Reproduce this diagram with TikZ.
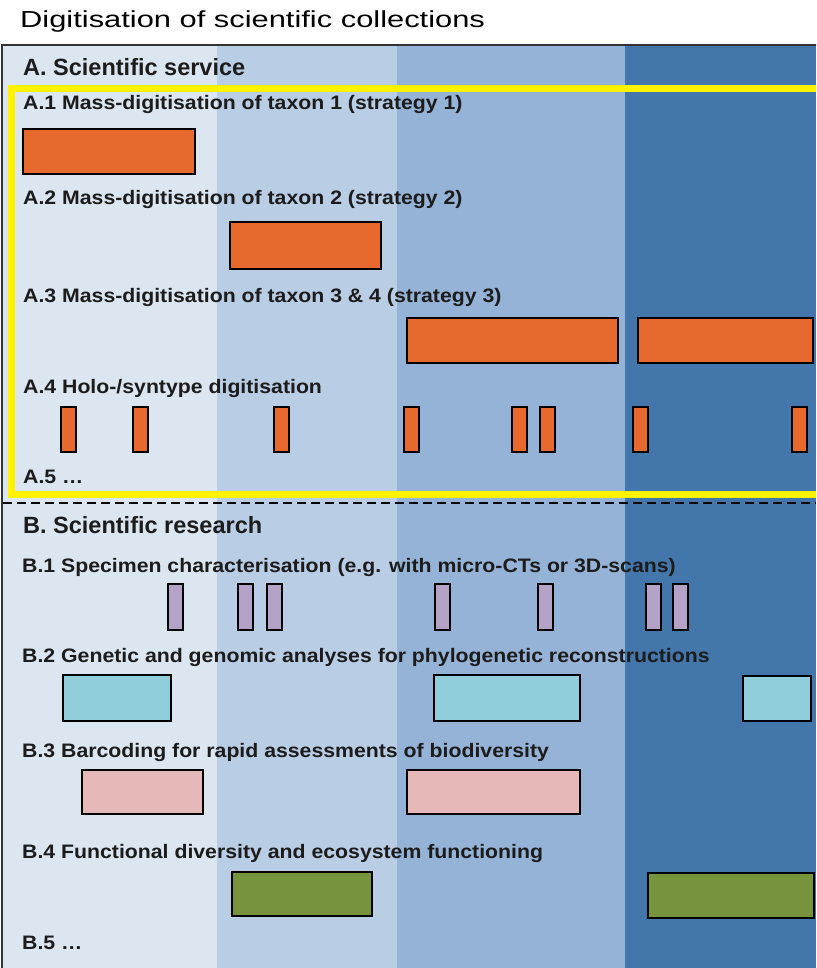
\documentclass[tikz,border=0pt]{standalone}
\usepackage{fontspec}
\setmainfont{Liberation Sans}
\newfontfamily\titlefont[FakeStretch=1.33]{Liberation Sans}
\newfontfamily\itemfont[FakeStretch=1.09]{Liberation Sans}
\usepackage{tikz}
\usetikzlibrary{positioning}

\definecolor{bandone}{HTML}{DCE6F1}
\definecolor{bandtwo}{HTML}{B9CDE5}
\definecolor{bandthree}{HTML}{95B3D7}
\definecolor{bandfour}{HTML}{4376AB}
\definecolor{servicefill}{HTML}{E8692D}
\definecolor{scanfill}{HTML}{B4A2C7}
\definecolor{genefill}{HTML}{92CDDC}
\definecolor{barcodefill}{HTML}{E6B9B8}
\definecolor{functionfill}{HTML}{77933C}
\definecolor{labeltext}{HTML}{1C1C1C}

\begin{document}
\begin{tikzpicture}[
    x=1pt, y=-1pt,
    title/.style={anchor=base west, inner sep=0, text=black, font=\titlefont\fontsize{23.2}{25}\selectfont},
    section/.style={anchor=base west, inner sep=0, text=labeltext, font=\bfseries\fontsize{23.5}{25}\selectfont},
    item/.style={anchor=base west, inner sep=0, text=labeltext, font=\itemfont\bfseries\fontsize{19.5}{21}\selectfont},
    bar/.style={draw=black, line width=2.2pt},
    servicebar/.style={bar, fill=servicefill},
    scanbar/.style={bar, fill=scanfill},
    genebar/.style={bar, fill=genefill},
    barcodebar/.style={bar, fill=barcodefill},
    functionbar/.style={bar, fill=functionfill}
]
    \useasboundingbox (0,0) rectangle (816,968);
    \clip (0,0) rectangle (816,968);

    % Time bands
    \fill[bandone] (2,45) rectangle (217,968);
    \fill[bandtwo] (217,45) rectangle (397,968);
    \fill[bandthree] (397,45) rectangle (625,968);
    \fill[bandfour] (625,45) rectangle (816,968);

    % Frame
    \draw[black!80, line width=2pt] (2,968) -- (2,45) -- (820,45);

    % Title
    \node[title] (heading) at (20,28) {Digitisation of scientific collections};

    % A. Scientific service
    \node[section] (service) at (23,76) {A. Scientific service};
    \draw[yellow, line width=7pt] (11,89) rectangle (840,494);

    \node[item] (a1) at (23,110) {A.1 Mass-digitisation of taxon 1 (strategy 1)};
    \draw[servicebar] (23,129) rectangle (195,174);

    \node[item] (a2) at (23,205) {A.2 Mass-digitisation of taxon 2 (strategy 2)};
    \draw[servicebar] (230,222) rectangle (381,269);

    \node[item] (a3) at (23,302) {A.3 Mass-digitisation of taxon 3 \& 4 (strategy 3)};
    \draw[servicebar] (407,318) rectangle (618,363);
    \draw[servicebar] (638,318) rectangle (813,363);

    \node[item] (a4) at (23,393) {A.4 Holo-/syntype digitisation};
    \draw[servicebar] (61,407) rectangle (76,452);
    \draw[servicebar] (133,407) rectangle (148,452);
    \draw[servicebar] (274,407) rectangle (289,452);
    \draw[servicebar] (404,407) rectangle (419,452);
    \draw[servicebar] (512,407) rectangle (527,452);
    \draw[servicebar] (540,407) rectangle (555,452);
    \draw[servicebar] (633,407) rectangle (648,452);
    \draw[servicebar] (792,407) rectangle (807,452);

    \node[item] (a5) at (23,483) {A.5 …};

    % Divider
    \draw[black, line width=2pt, dash pattern=on 9pt off 5pt] (3,503) -- (816,503);

    % B. Scientific research
    \node[section] (research) at (23,533) {B. Scientific research};

    \node[item] (b1) at (22,572) {B.1 Specimen characterisation (e.g. with micro-CTs or 3D-scans)};
    \draw[scanbar] (168,584) rectangle (183,630);
    \draw[scanbar] (238,584) rectangle (253,630);
    \draw[scanbar] (267,584) rectangle (282,630);
    \draw[scanbar] (435,584) rectangle (450,630);
    \draw[scanbar] (538,584) rectangle (553,630);
    \draw[scanbar] (646,584) rectangle (661,630);
    \draw[scanbar] (673,584) rectangle (688,630);

    \node[item] (b2) at (22,662) {B.2 Genetic and genomic analyses for phylogenetic reconstructions};
    \draw[genebar] (63,675) rectangle (171,721);
    \draw[genebar] (434,675) rectangle (580,721);
    \draw[genebar] (743,676) rectangle (811,721);

    \node[item] (b3) at (22,757) {B.3 Barcoding for rapid assessments of biodiversity};
    \draw[barcodebar] (82,770) rectangle (203,814);
    \draw[barcodebar] (407,770) rectangle (580,814);

    \node[item] (b4) at (22,858) {B.4 Functional diversity and ecosystem functioning};
    \draw[functionbar] (232,872) rectangle (372,916);
    \draw[functionbar] (648,873) rectangle (814,918);

    \node[item] (b5) at (22,949) {B.5 …};
\end{tikzpicture}
\end{document}
